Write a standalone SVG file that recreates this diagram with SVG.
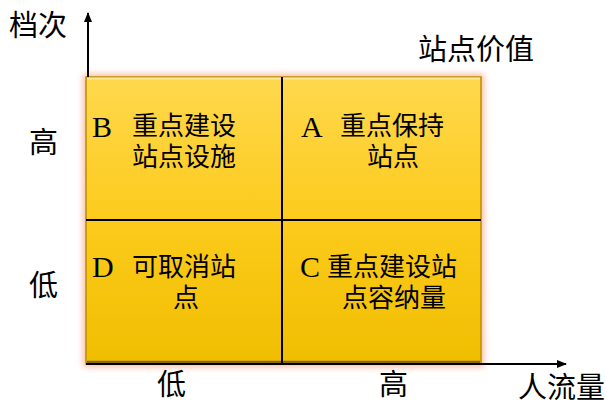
<svg xmlns="http://www.w3.org/2000/svg" width="606" height="405" viewBox="0 0 606 405">
<defs>
<style>
.cjk{font-family:"Noto Sans CJK SC","Noto Sans",sans-serif;fill:#000;}
.ax{font-size:29px;}
.q{font-size:26px;}
.lat{font-family:"Liberation Serif",serif;font-size:30px;fill:#000;}
.line{stroke:#000;stroke-width:2;fill:none;}
</style>
<linearGradient id="g" x1="0" y1="0" x2="0" y2="1">
<stop offset="0" stop-color="#FFD84E"/>
<stop offset="0.5" stop-color="#FCCB1C"/>
<stop offset="1" stop-color="#F0BE00"/>
</linearGradient>
<filter id="glow" x="-10%" y="-10%" width="120%" height="120%">
<feGaussianBlur stdDeviation="3"/>
</filter>
<marker id="ah" markerWidth="10" markerHeight="8" refX="9" refY="4" orient="auto" markerUnits="userSpaceOnUse">
<path d="M0,0 L10,4 L0,8 Z" fill="#000"/>
</marker>
</defs>
<g id="matrix">
<rect x="83" y="74" width="401" height="293" fill="#F7A07A" opacity="0.7" filter="url(#glow)"/>
<rect x="86" y="77" width="395" height="287" fill="url(#g)" stroke="#B98E00" stroke-width="1.5"/>
<line x1="87" y1="78.5" x2="480" y2="78.5" stroke="#FFE79A" stroke-width="2"/>
<line x1="87" y1="362" x2="480" y2="362" stroke="#8A6A00" stroke-width="2.5"/>
</g>
<g id="connectors">
<line class="line" x1="88" y1="77" x2="88" y2="13" marker-end="url(#ah)"/>
<line class="line" x1="86" y1="364" x2="566" y2="364" marker-end="url(#ah)"/>
<line class="line" x1="282" y1="77" x2="282" y2="364"/>
<line class="line" x1="86" y1="220" x2="481" y2="220"/>
</g>
<g id="labels">
<text class="cjk ax" x="9" y="36">档次</text>
<text class="cjk ax" x="418" y="60">站点价值</text>
<text class="cjk ax" x="29" y="153">高</text>
<text class="cjk ax" x="29" y="296">低</text>
<text class="cjk ax" x="157" y="395">低</text>
<text class="cjk ax" x="379" y="395">高</text>
<text class="cjk ax" x="518" y="398">人流量</text>
</g>
<g id="quadB">
<text class="lat" x="92" y="137">B</text>
<text class="cjk q"><tspan x="132" y="135">重点建设</tspan><tspan x="132" y="166">站点设施</tspan></text>
</g>
<g id="quadA">
<text class="lat" x="301" y="137">A</text>
<text class="cjk q"><tspan x="340" y="135">重点保持</tspan><tspan x="367" y="166">站点</tspan></text>
</g>
<g id="quadD">
<text class="lat" x="92" y="277">D</text>
<text class="cjk q"><tspan x="132" y="276">可取消站</tspan><tspan x="173" y="307">点</tspan></text>
</g>
<g id="quadC">
<text class="lat" x="300" y="277">C</text>
<text class="cjk q"><tspan x="327" y="276">重点建设站</tspan><tspan x="342" y="307">点容纳量</tspan></text>
</g>
</svg>
